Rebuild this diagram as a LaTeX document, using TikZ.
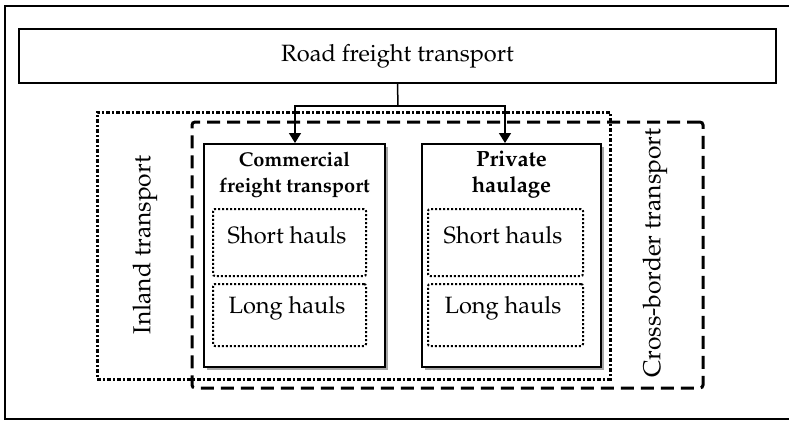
\documentclass[tikz,border=0pt]{standalone}
\usepackage[T1]{fontenc}
\usepackage{mathpazo}
\usetikzlibrary{arrows.meta,shadows}

\begin{document}
\begin{tikzpicture}[x=0.5pt,y=-0.5pt,
  every node/.style={font=\fontsize{11.8}{13}\selectfont},
  titlebox/.style={draw,line width=0.75pt,minimum width=378.5pt,minimum height=27pt},
  inlandbox/.style={draw,line width=1.5pt,dash pattern=on 2pt off 1pt on 1pt off 1pt,
    minimum width=256.5pt,minimum height=133.5pt},
  crossbox/.style={draw,line width=1.5pt,dash pattern=on 6.5pt off 3.5pt,rounded corners=1.5pt,
    minimum width=255.5pt,minimum height=133pt},
  kindbox/.style={draw,fill=white,line width=1pt,minimum height=111.5pt,
    drop shadow={shadow xshift=1.3pt,shadow yshift=-1.3pt,fill=gray,opacity=0.7}},
  haulbox/.style={draw,line width=1pt,densely dotted,rounded corners=1pt,minimum height=#1},
  kindtext/.style={font=\fontsize{10}{13}\selectfont\bfseries,align=center},
  sidetext/.style={rotate=90,font=\fontsize{12.3}{13}\selectfont},
  flow/.style={line width=0.75pt,-{Triangle[length=5pt,width=6pt]}}
]
\useasboundingbox (0,0) rectangle (789,420);
\draw[line width=0.75pt] (5,6) rectangle (791,419);

% outer groups
\node[inlandbox] (inland) at (353.5,245.5) {};
\node[crossbox] (cross) at (447.5,255) {};
\node[sidetext] (inlandtext) at (145,245) {Inland transport};
\node[sidetext] (crosstext) at (655,253) {Cross-border transport};

\node[titlebox] (title) at (397.5,56) {Road freight transport};

% commercial freight transport
\node[kindbox,minimum width=90.5pt] (comm) at (294.5,255.5) {};
\node[kindtext] (commtext) at (294.5,175) {Commercial\\freight transport};
\node[haulbox=33.5pt,minimum width=76.5pt] (cshort) at (289.5,242.5) {};
\node[haulbox=31pt,minimum width=76.5pt] (clong) at (289.5,315) {};
\node (cshorttext) at (287,235) {Short hauls};
\node (clongtext) at (287,308) {Long hauls};

% private haulage
\node[kindbox,minimum width=89.5pt] (priv) at (511.5,255.5) {};
\node[kindtext,font=\fontsize{11}{13}\selectfont\bfseries] (privtext) at (511.5,175) {Private\\haulage};
\node[haulbox=33.5pt,minimum width=77.5pt] (pshort) at (505.5,242.5) {};
\node[haulbox=31pt,minimum width=77.5pt] (plong) at (505.5,315) {};
\node (pshorttext) at (503,235) {Short hauls};
\node (plongtext) at (503,308) {Long hauls};

\coordinate (split) at (398,106);
\draw[line width=0.75pt] (title.south) -- (split);
\draw[flow] (split) -| ([xshift=0.25pt]comm.north);
\draw[flow] (split) -| ([xshift=-3.25pt]priv.north);
\end{tikzpicture}
\end{document}
